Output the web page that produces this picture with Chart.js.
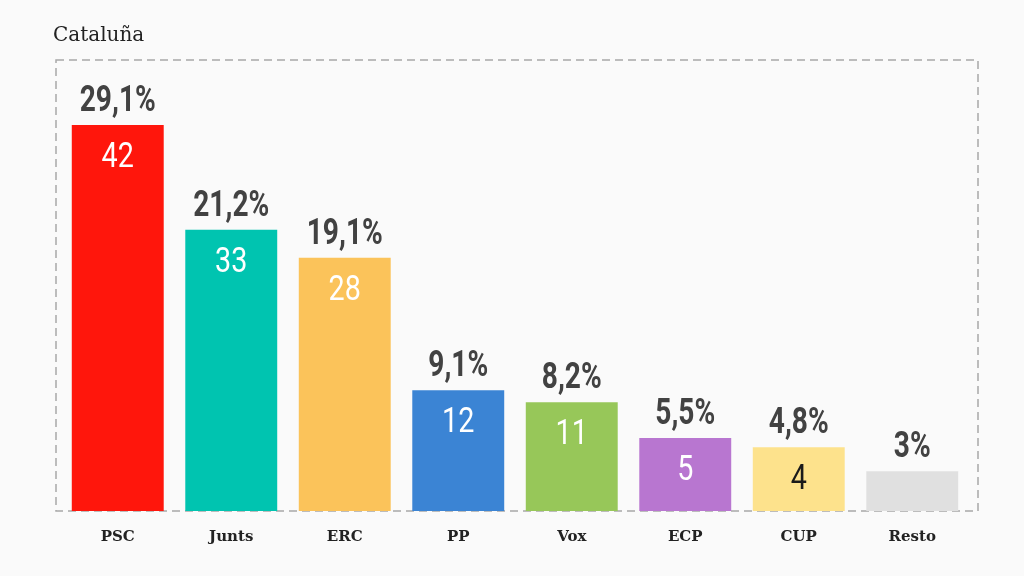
<!DOCTYPE html>
<html>
<head>
<meta charset="utf-8">
<script src="https://cdn.jsdelivr.net/npm/chart.js@4"></script>
<style>
  html, body { margin: 0; padding: 0; background: #fafafa; }
  #wrap { width: 1024px; height: 576px; }
</style>
</head>
<body>
<div id="wrap"><canvas id="chart" width="1024" height="576"></canvas></div>
<script>
const titleText = 'Cataluña';
const parties = ['PSC', 'Junts', 'ERC', 'PP', 'Vox', 'ECP', 'CUP', 'Resto'];
const votePercent = [29.1, 21.2, 19.1, 9.1, 8.2, 5.5, 4.8, 3];
const seats = [42, 33, 28, 12, 11, 5, 4, null];
const barColors = ['#ff160c', '#00c4b0', '#fbc35a', '#3b84d4', '#97c759', '#b876d0', '#fde28c', '#e0e0e0'];
const seatColors = ['#fff', '#fff', '#fff', '#fff', '#fff', '#fff', '#1a1a1a', '#fff'];

const formatPct = v => String(v).replace('.', ',') + '%';

// Title, dashed frame and value labels.
const decorPlugin = {
  id: 'decor',
  beforeDatasetsDraw: (chart) => {
    const {ctx, chartArea: {left, right, top, bottom}} = chart;
    ctx.save();
    ctx.fillStyle = '#222';
    ctx.font = '20px "DejaVu Serif", serif';
    ctx.textAlign = 'left';
    ctx.textBaseline = 'alphabetic';
    ctx.fillText(titleText, 53, 41);

    ctx.strokeStyle = '#a8a8a8';
    ctx.lineWidth = 1.5;
    ctx.setLineDash([8, 5]);
    ctx.strokeRect(left - 5, top, right - left + 14, bottom - top);
    ctx.restore();
  },
  afterDatasetsDraw: (chart) => {
    const {ctx} = chart;
    const meta = chart.getDatasetMeta(0);
    ctx.save();
    ctx.textAlign = 'center';
    ctx.textBaseline = 'alphabetic';
    meta.data.forEach((bar, i) => {
      // percentage above the bar (condensed look)
      ctx.save();
      ctx.translate(bar.x, bar.y - 14);
      ctx.scale(0.78, 1);
      ctx.fillStyle = '#424242';
      ctx.font = 'bold 36px Roboto, sans-serif';
      ctx.fillText(formatPct(votePercent[i]), 0, 0);
      ctx.restore();

      if (seats[i] !== null) {
        ctx.save();
        ctx.translate(bar.x, bar.y + 42);
        ctx.scale(0.82, 1);
        ctx.fillStyle = seatColors[i];
        ctx.font = '35px Roboto, sans-serif';
        ctx.fillText(String(seats[i]), 0, 0);
        ctx.restore();
      }
    });
    ctx.restore();
  }
};

new Chart(document.getElementById('chart'), {
  type: 'bar',
  data: {
    labels: parties,
    datasets: [{
      data: votePercent,
      backgroundColor: barColors,
      borderWidth: 0,
      categoryPercentage: 1,
      barPercentage: 0.81
    }]
  },
  options: {
    responsive: false,
    animation: false,
    devicePixelRatio: 1,
    layout: {
      padding: {left: 61, right: 55, top: 60, bottom: 13}
    },
    plugins: {
      legend: {display: false},
      title: {display: false},
      tooltip: {enabled: false}
    },
    scales: {
      x: {
        grid: {display: false, drawTicks: false},
        border: {display: false},
        ticks: {
          padding: 17,
          color: '#222',
          font: {family: '"DejaVu Serif", serif', size: 15, weight: 'bold'}
        }
      },
      y: {
        display: false,
        min: 0,
        max: 34
      }
    }
  },
  plugins: [decorPlugin]
});
</script>
</body>
</html>
